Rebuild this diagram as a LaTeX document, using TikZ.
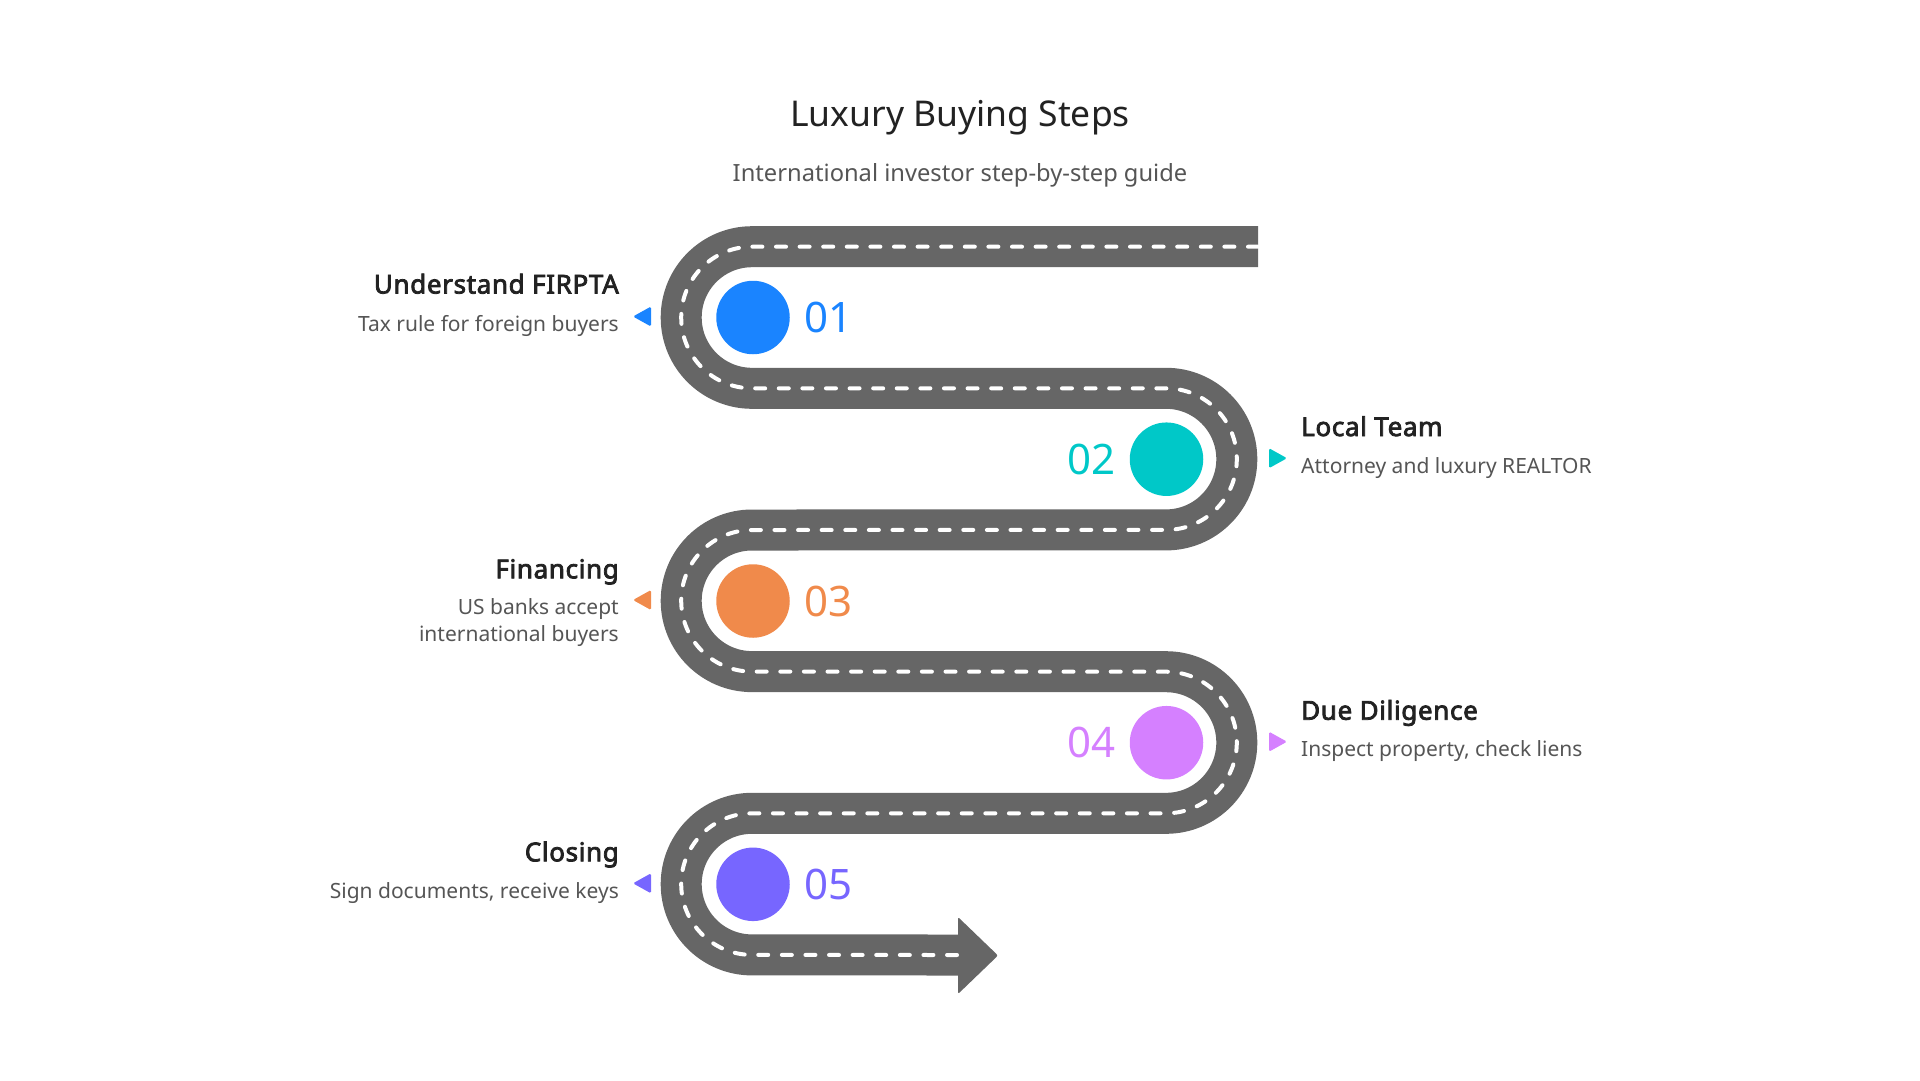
\documentclass[tikz,border=0pt]{standalone}
\usepackage{fontspec}
\setmainfont{Noto Sans}[BoldFont={Noto Sans}, BoldFeatures={FakeBold=3, LetterSpace=2.5}]
\definecolor{roadc}{HTML}{666666}
\definecolor{cA}{HTML}{1A84FF}
\definecolor{cB}{HTML}{00C8C8}
\definecolor{cC}{HTML}{F08A4B}
\definecolor{cD}{HTML}{D580FF}
\definecolor{cE}{HTML}{7766FF}
\definecolor{ttl}{HTML}{222222}
\definecolor{dsc}{HTML}{555555}
\tikzset{
  road/.style={draw=roadc, line width=41pt},
  lane/.style={draw=white, line width=4pt, line cap=round, dash pattern=on 10pt off 13.6pt},
  dot/.style={circle, fill=#1, minimum size=73.5pt, inner sep=0pt},
  num/.style={text=#1, font=\fontsize{42}{50}\selectfont, inner sep=0pt},
  stitle/.style={text=ttl, font=\bfseries\fontsize{26}{30}\selectfont, inner sep=0pt},
  sdesc/.style={text=dsc, font=\fontsize{21}{26}\selectfont, inner sep=0pt},
  marker/.style={fill=#1, rounded corners=1.5pt},
}
\begin{document}
\begin{tikzpicture}[x=1pt,y=1pt]
\useasboundingbox (0,0) rectangle (1920,-1080);
% title
\node[anchor=base, text=ttl, font=\fontsize{35.5}{42}\selectfont, inner sep=0pt] (title) at (960,-126.7) {Luxury Buying Steps};
\node[anchor=base, text=dsc, font=\fontsize{23.7}{28}\selectfont, inner sep=0pt] (subtitle) at (960,-181.7) {International investor step-by-step guide};
% road
\def\roadpath{(1258,-246.7) -- (752,-246.7) arc[start angle=90, end angle=270, radius=70.8]
  -- (1166,-388.3) arc[start angle=90, end angle=-90, radius=70.8]
  -- (752,-530) arc[start angle=90, end angle=270, radius=70.8]
  -- (1166,-671.7) arc[start angle=90, end angle=-90, radius=70.8]
  -- (752,-813.3) arc[start angle=90, end angle=270, radius=70.8]
  -- (960,-955)}
\draw[road] \roadpath;
\fill[roadc, rounded corners=2pt] (958,-917) -- (998,-955.5) -- (958,-994) -- cycle;
\draw[lane] \roadpath;
% circles
\node[dot=cA] (d1) at (753,-317.5) {};
\node[dot=cB] (d2) at (1166.5,-459.2) {};
\node[dot=cC] (d3) at (753,-601) {};
\node[dot=cD] (d4) at (1166.5,-742.7) {};
\node[dot=cE] (d5) at (753,-884.3) {};
% numbers
\node[num=cA, anchor=west] (n1) at (804,-317.5) {01};
\node[num=cB, anchor=east] (n2) at (1116,-459.2) {02};
\node[num=cC, anchor=west] (n3) at (804,-601) {03};
\node[num=cD, anchor=east] (n4) at (1116,-742.7) {04};
\node[num=cE, anchor=west] (n5) at (804,-884.3) {05};
% markers
\fill[marker=cA] (633,-316.5) -- (651,-306.5) -- (651,-326.5) -- cycle;
\fill[marker=cB] (1287,-458.2) -- (1269,-448.2) -- (1269,-468.2) -- cycle;
\fill[marker=cC] (633,-600) -- (651,-590) -- (651,-610) -- cycle;
\fill[marker=cD] (1287,-741.7) -- (1269,-731.7) -- (1269,-751.7) -- cycle;
\fill[marker=cE] (633,-883.3) -- (651,-873.3) -- (651,-893.3) -- cycle;
% labels
\node[stitle, anchor=base east] (t1) at (619,-293.5) {Understand FIRPTA};
\node[sdesc, anchor=base east] (s1) at (619,-331) {Tax rule for foreign buyers};
\node[stitle, anchor=base west] (t2) at (1301,-436) {Local Team};
\node[sdesc, anchor=base west] (s2) at (1301,-473.3) {Attorney and luxury REALTOR};
\node[stitle, anchor=base east] (t3) at (619,-578.3) {Financing};
\node[sdesc, anchor=base east] (s3a) at (619,-614) {US banks accept};
\node[sdesc, anchor=base east] (s3b) at (619,-641.7) {international buyers};
\node[stitle, anchor=base west] (t4) at (1301,-719.7) {Due Diligence};
\node[sdesc, anchor=base west] (s4) at (1301,-756) {Inspect property, check liens};
\node[stitle, anchor=base east] (t5) at (619,-861.3) {Closing};
\node[sdesc, anchor=base east] (s5) at (619,-898) {Sign documents, receive keys};
\end{tikzpicture}
\end{document}
